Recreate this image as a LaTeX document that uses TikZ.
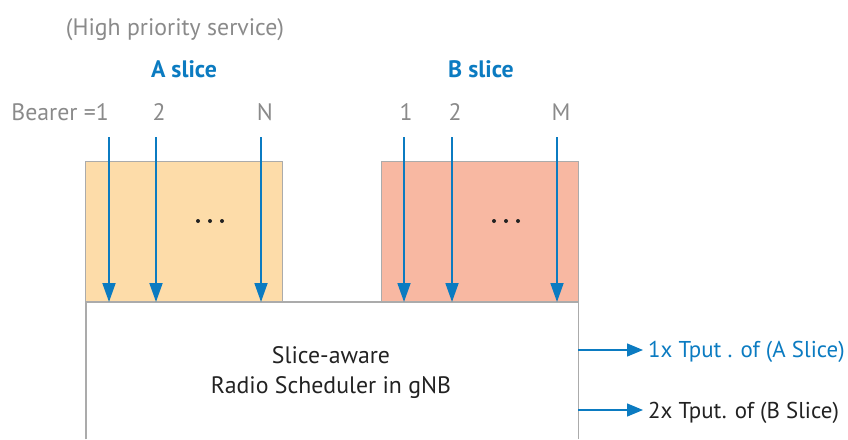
\documentclass[tikz,border=0pt]{standalone}
\usepackage{fontspec}
\setmainfont{PT Sans}
\usetikzlibrary{arrows.meta}
\definecolor{sblue}{HTML}{0B7BC1}
\definecolor{sgray}{HTML}{8A8A8A}
\definecolor{sdark}{HTML}{222222}
\definecolor{aorange}{HTML}{FDDCA9}
\definecolor{bsalmon}{HTML}{F8B8A2}
\definecolor{bordergray}{HTML}{ABABAB}
\newcommand{\bigfont}{\fontsize{23.8}{28}\selectfont}
\newcommand{\outfont}{\fontsize{22.9}{27}\selectfont}
\tikzset{
  slicebox/.style={draw=bordergray, line width=1.2pt, minimum width=197pt, minimum height=141pt, anchor=north west, inner sep=0pt},
  bearer/.style={draw=sblue, line width=1.8pt, -{Triangle[width=13pt,length=19pt]}},
  outarrow/.style={draw=sblue, line width=1.4pt, -{Triangle[width=13pt,length=16pt]}, shorten >=5pt},
  lbl/.style={font=\bigfont, text=sgray, anchor=base, inner sep=0pt},
  title/.style={font=\bigfont\bfseries, text=sblue, anchor=base, inner sep=0pt},
  body/.style={font=\bigfont, text=sdark, anchor=base, inner sep=0pt},
  outtext/.style={font=\outfont, anchor=base west, inner sep=0pt},
  dot/.style={circle, fill=sdark, minimum size=4pt, inner sep=0pt},
}
\begin{document}
\begin{tikzpicture}[x=1pt,y=-1pt]
\useasboundingbox (0,0) rectangle (848,439);
% titles
\node[lbl] (hp) at (175,35) {(High priority service)};
\node[title] (at) at (184,77) {A slice};
\node[title] (bt) at (481,77) {B slice};
% boxes
\node[slicebox, fill=aorange] (boxA) at (85,161) {};
\node[slicebox, fill=bsalmon] (boxB) at (381,161) {};
\node[minimum width=492pt, minimum height=137pt, anchor=north west, inner sep=0pt] (sched) at (86,302) {};
\draw[bordergray, line width=1.2pt] (sched.south west) -- (sched.north west) -- (sched.north east) -- (sched.south east);
% bearer labels
\node[lbl, anchor=base east] (la1) at (109,120) {Bearer =1};
\node[lbl] (la2) at (159,120) {2};
\node[lbl] (laN) at (265,120) {N};
\node[lbl] (lb1) at (406,120) {1};
\node[lbl] (lb2) at (455,120) {2};
\node[lbl] (lbM) at (561,120) {M};
% bearer arrows
\foreach \n/\x in {a1/109,a2/156,aN/261,b1/404,b2/452,bM/557}{
  \coordinate (s\n) at (\x,137);
  \coordinate (e\n) at (\x,302);
  \draw[bearer] (s\n) -- (e\n);
}
% dots
\foreach \c/\x in {A/210,B/506}{
  \node[dot] (d\c1) at (\x-12,221) {};
  \node[dot] (d\c2) at (\x,221) {};
  \node[dot] (d\c3) at (\x+12,221) {};
}
% scheduler text
\node[body] (t1) at (331,363) {Slice-aware};
\node[body] (t2) at (331,393) {Radio Scheduler in gNB};
% outputs
\coordinate (o1s) at (578,350);
\coordinate (o2s) at (578,410);
\node[outtext, text=sblue] (o1) at (648,357) {1x Tput . of (A Slice)};
\node[outtext, text=sdark] (o2) at (648,418) {2x Tput. of (B Slice)};
\draw[outarrow] (o1s) -- (o1.west |- o1s);
\draw[outarrow] (o2s) -- (o2.west |- o2s);
\end{tikzpicture}
\end{document}
